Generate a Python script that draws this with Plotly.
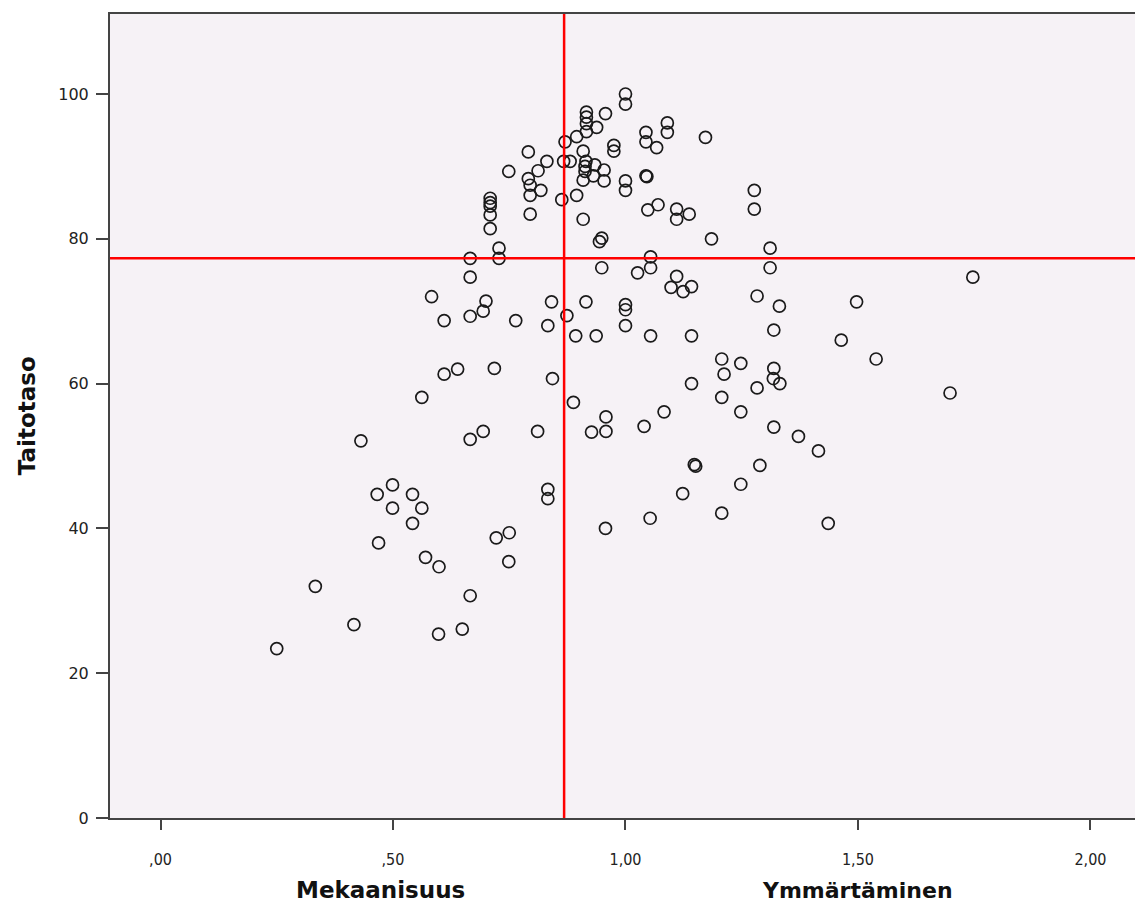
import plotly.graph_objects as go

# Scatter data: Mekaanisuus/Ymmärtäminen ratio (x) vs Taitotaso (y)
x_vals = [
    1.000, 1.000, 0.916, 0.916, 0.916, 0.916, 0.957, 0.938, 1.090, 1.090,
    1.044, 1.044, 1.067, 1.172, 0.895, 0.870, 0.909, 0.975, 0.975, 0.791,
    0.749, 0.831, 0.867, 0.881, 0.915, 0.913, 0.913, 0.934, 0.954, 0.931,
    0.954, 0.909, 1.000, 1.000, 1.044, 1.046, 0.812, 0.791, 0.795, 0.795,
    0.818, 0.795, 0.709, 0.709, 0.709, 0.709, 0.709, 0.895, 0.863, 0.909,
    0.949, 0.944, 1.277, 1.277, 1.048, 1.070, 1.110, 1.110, 1.137, 1.185,
    1.311, 1.311, 1.054, 1.054, 0.949, 1.026, 1.110, 1.098, 1.124, 1.142,
    1.283, 1.331, 0.915, 0.874, 1.000, 1.000, 1.000, 0.893, 0.937, 1.054,
    1.142, 1.319, 1.747, 1.497, 1.464, 1.539, 0.728, 0.728, 0.666, 0.666,
    0.583, 0.700, 0.694, 0.666, 0.610, 0.764, 0.841, 0.833, 1.207, 1.248,
    1.212, 1.319, 1.318, 1.332, 1.142, 1.283, 1.207, 1.248, 1.083, 0.888,
    0.958, 0.958, 0.927, 1.040, 1.319, 1.372, 1.415, 1.698, 1.148, 1.151,
    1.289, 1.248, 1.123, 1.207, 1.053, 0.957, 1.436, 0.610, 0.639, 0.718,
    0.843, 0.562, 0.666, 0.694, 0.811, 0.431, 0.499, 0.466, 0.542, 0.499,
    0.562, 0.542, 0.833, 0.833, 0.469, 0.570, 0.599, 0.722, 0.750, 0.749,
    0.333, 0.666, 0.416, 0.598, 0.649, 0.250,
]
y_vals = [
    100.0, 98.6, 97.5, 96.8, 95.9, 94.8, 97.3, 95.4, 96.0, 94.7,
    94.7, 93.4, 92.6, 94.0, 94.1, 93.4, 92.1, 92.9, 92.1, 92.0,
    89.3, 90.7, 90.7, 90.7, 90.7, 90.0, 89.3, 90.2, 89.5, 88.7,
    88.0, 88.1, 88.0, 86.7, 88.7, 88.6, 89.4, 88.3, 87.4, 86.0,
    86.7, 83.4, 85.6, 85.0, 84.5, 83.3, 81.4, 86.0, 85.4, 82.7,
    80.1, 79.6, 86.7, 84.1, 84.0, 84.7, 84.1, 82.7, 83.4, 80.0,
    78.7, 76.0, 77.5, 76.0, 76.0, 75.3, 74.8, 73.3, 72.7, 73.4,
    72.1, 70.7, 71.3, 69.4, 70.9, 70.2, 68.0, 66.6, 66.6, 66.6,
    66.6, 67.4, 74.7, 71.3, 66.0, 63.4, 78.7, 77.3, 77.3, 74.7,
    72.0, 71.4, 70.0, 69.3, 68.7, 68.7, 71.3, 68.0, 63.4, 62.8,
    61.3, 62.1, 60.7, 60.0, 60.0, 59.4, 58.1, 56.1, 56.1, 57.4,
    55.4, 53.4, 53.3, 54.1, 54.0, 52.7, 50.7, 58.7, 48.8, 48.6,
    48.7, 46.1, 44.8, 42.1, 41.4, 40.0, 40.7, 61.3, 62.0, 62.1,
    60.7, 58.1, 52.3, 53.4, 53.4, 52.1, 46.0, 44.7, 44.7, 42.8,
    42.8, 40.7, 45.4, 44.1, 38.0, 36.0, 34.7, 38.7, 39.4, 35.4,
    32.0, 30.7, 26.7, 25.4, 26.1, 23.4,
]

# Reference lines (means)
mean_x = 0.868
mean_y = 77.3

x_tick_vals = [0.0, 0.5, 1.0, 1.5, 2.0]
x_tick_text = [",00", ",50", "1,00", "1,50", "2,00"]
y_tick_vals = [0, 20, 40, 60, 80, 100]

x_range = [-0.1086, 2.1065]
y_range = [0, 111.05]

axis_color = "#444444"
narrow = "Liberation Sans Narrow, Arial Narrow, DejaVu Sans Condensed, sans-serif"
title_font = "DejaVu Sans, Liberation Sans, sans-serif"

fig = go.Figure()
fig.add_trace(go.Scatter(
    x=x_vals, y=y_vals, mode="markers",
    marker=dict(symbol="circle-open", size=12, color="#1a1a1a",
                line=dict(width=1.7, color="#1a1a1a")),
    showlegend=False, hoverinfo="x+y",
))

fig.add_shape(type="line", xref="x", yref="paper", x0=mean_x, x1=mean_x, y0=0, y1=1,
              line=dict(color="#ff0000", width=2.5), layer="above")
fig.add_shape(type="line", xref="paper", yref="y", x0=0, x1=1, y0=mean_y, y1=mean_y,
              line=dict(color="#ff0000", width=2.5), layer="above")

fig.update_layout(
    width=1140, height=904,
    margin=dict(l=110, r=0, t=14, b=86),
    paper_bgcolor="white",
    plot_bgcolor="#f6f2f6",
    showlegend=False,
    xaxis=dict(
        range=x_range, tickvals=x_tick_vals, ticktext=x_tick_text,
        showgrid=False, zeroline=False,
        showline=True, linecolor=axis_color, linewidth=2, mirror=True,
        ticks="outside", ticklen=10, tickwidth=1.5, tickcolor=axis_color,
        tickfont=dict(family=narrow, size=16, color="#222222"),
        ticklabelstandoff=16,
    ),
    yaxis=dict(
        range=y_range, tickvals=y_tick_vals,
        showgrid=False, zeroline=False,
        showline=True, linecolor=axis_color, linewidth=2,
        ticks="outside", ticklen=12, tickwidth=1.5, tickcolor=axis_color,
        tickfont=dict(family="DejaVu Sans, sans-serif", size=16, color="#222222"),
        ticklabelstandoff=4,
    ),
    annotations=[
        dict(text="<b>Taitotaso</b>", xref="paper", yref="paper", x=-0.0806, y=0.501,
             textangle=-90, showarrow=False, xanchor="center", yanchor="middle",
             font=dict(family=title_font, size=23, color="#111111")),
        dict(text="<b>Mekaanisuus</b>", xref="paper", yref="paper", x=0.263, y=-0.0896,
             showarrow=False, xanchor="center", yanchor="middle",
             font=dict(family=title_font, size=23, color="#111111")),
        dict(text="<b>Ymmärtäminen</b>", xref="paper", yref="paper", x=0.726, y=-0.0896,
             showarrow=False, xanchor="center", yanchor="middle",
             font=dict(family=title_font, size=22, color="#111111")),
    ],
)

fig.write_html("out.html", config={"displayModeBar": False},
               post_script="document.body.style.margin='0';document.body.style.overflow='hidden';document.documentElement.style.overflow='hidden';")
